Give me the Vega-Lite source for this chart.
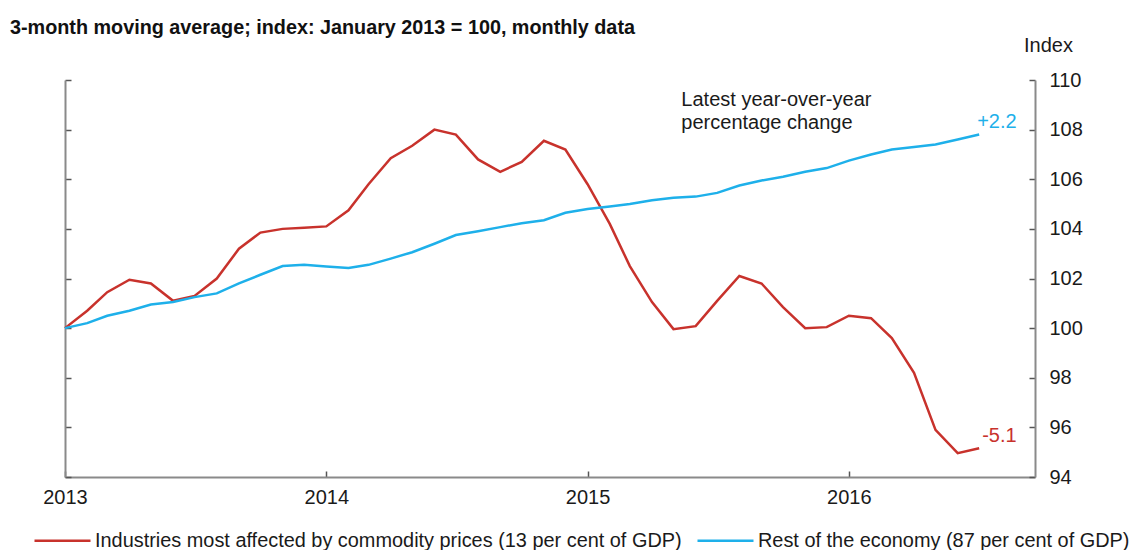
{
  "$schema": "https://vega.github.io/schema/vega-lite/v6.json",
  "autosize": {"type": "none"},
  "padding": {"left": 65, "top": 80, "right": 96, "bottom": 73},
  "width": 970,
  "height": 397,
  "config": {
    "font": "Liberation Sans",
    "view": {"stroke": null},
    "axis": {"grid": false, "domainColor": "#8a8a8a", "domainWidth": 2, "tickColor": "#555555", "tickWidth": 1.5, "labelColor": "#1a1a1a", "labelFontSize": 20, "labelFont": "Liberation Sans"}
  },
  "title": {
    "text": "3-month moving average; index: January 2013 = 100, monthly data",
    "anchor": "start",
    "frame": "group",
    "dx": -55,
    "offset": -3,
    "fontSize": 19.8,
    "fontWeight": "bold",
    "font": "Liberation Sans",
    "color": "#111111"
  },
  "datasets": {
    "lines": [
      {"date": "2013-01-01", "series": "Industries most affected by commodity prices (13 per cent of GDP)", "value": 100.0},
      {"date": "2013-02-01", "series": "Industries most affected by commodity prices (13 per cent of GDP)", "value": 100.7},
      {"date": "2013-03-01", "series": "Industries most affected by commodity prices (13 per cent of GDP)", "value": 101.45},
      {"date": "2013-04-01", "series": "Industries most affected by commodity prices (13 per cent of GDP)", "value": 101.95},
      {"date": "2013-05-01", "series": "Industries most affected by commodity prices (13 per cent of GDP)", "value": 101.8},
      {"date": "2013-06-01", "series": "Industries most affected by commodity prices (13 per cent of GDP)", "value": 101.1},
      {"date": "2013-07-01", "series": "Industries most affected by commodity prices (13 per cent of GDP)", "value": 101.3},
      {"date": "2013-08-01", "series": "Industries most affected by commodity prices (13 per cent of GDP)", "value": 102.0},
      {"date": "2013-09-01", "series": "Industries most affected by commodity prices (13 per cent of GDP)", "value": 103.2},
      {"date": "2013-10-01", "series": "Industries most affected by commodity prices (13 per cent of GDP)", "value": 103.85},
      {"date": "2013-11-01", "series": "Industries most affected by commodity prices (13 per cent of GDP)", "value": 104.0},
      {"date": "2013-12-01", "series": "Industries most affected by commodity prices (13 per cent of GDP)", "value": 104.05},
      {"date": "2014-01-01", "series": "Industries most affected by commodity prices (13 per cent of GDP)", "value": 104.1},
      {"date": "2014-02-01", "series": "Industries most affected by commodity prices (13 per cent of GDP)", "value": 104.75},
      {"date": "2014-03-01", "series": "Industries most affected by commodity prices (13 per cent of GDP)", "value": 105.8},
      {"date": "2014-04-01", "series": "Industries most affected by commodity prices (13 per cent of GDP)", "value": 106.85},
      {"date": "2014-05-01", "series": "Industries most affected by commodity prices (13 per cent of GDP)", "value": 107.35},
      {"date": "2014-06-01", "series": "Industries most affected by commodity prices (13 per cent of GDP)", "value": 108.0},
      {"date": "2014-07-01", "series": "Industries most affected by commodity prices (13 per cent of GDP)", "value": 107.8},
      {"date": "2014-08-01", "series": "Industries most affected by commodity prices (13 per cent of GDP)", "value": 106.8},
      {"date": "2014-09-01", "series": "Industries most affected by commodity prices (13 per cent of GDP)", "value": 106.3},
      {"date": "2014-10-01", "series": "Industries most affected by commodity prices (13 per cent of GDP)", "value": 106.7},
      {"date": "2014-11-01", "series": "Industries most affected by commodity prices (13 per cent of GDP)", "value": 107.55},
      {"date": "2014-12-01", "series": "Industries most affected by commodity prices (13 per cent of GDP)", "value": 107.2},
      {"date": "2015-01-01", "series": "Industries most affected by commodity prices (13 per cent of GDP)", "value": 105.8},
      {"date": "2015-02-01", "series": "Industries most affected by commodity prices (13 per cent of GDP)", "value": 104.2},
      {"date": "2015-03-01", "series": "Industries most affected by commodity prices (13 per cent of GDP)", "value": 102.5},
      {"date": "2015-04-01", "series": "Industries most affected by commodity prices (13 per cent of GDP)", "value": 101.05},
      {"date": "2015-05-01", "series": "Industries most affected by commodity prices (13 per cent of GDP)", "value": 99.96},
      {"date": "2015-06-01", "series": "Industries most affected by commodity prices (13 per cent of GDP)", "value": 100.08},
      {"date": "2015-07-01", "series": "Industries most affected by commodity prices (13 per cent of GDP)", "value": 101.1},
      {"date": "2015-08-01", "series": "Industries most affected by commodity prices (13 per cent of GDP)", "value": 102.1},
      {"date": "2015-09-01", "series": "Industries most affected by commodity prices (13 per cent of GDP)", "value": 101.8},
      {"date": "2015-10-01", "series": "Industries most affected by commodity prices (13 per cent of GDP)", "value": 100.85},
      {"date": "2015-11-01", "series": "Industries most affected by commodity prices (13 per cent of GDP)", "value": 100.0},
      {"date": "2015-12-01", "series": "Industries most affected by commodity prices (13 per cent of GDP)", "value": 100.04},
      {"date": "2016-01-01", "series": "Industries most affected by commodity prices (13 per cent of GDP)", "value": 100.5},
      {"date": "2016-02-01", "series": "Industries most affected by commodity prices (13 per cent of GDP)", "value": 100.4},
      {"date": "2016-03-01", "series": "Industries most affected by commodity prices (13 per cent of GDP)", "value": 99.6},
      {"date": "2016-04-01", "series": "Industries most affected by commodity prices (13 per cent of GDP)", "value": 98.2},
      {"date": "2016-05-01", "series": "Industries most affected by commodity prices (13 per cent of GDP)", "value": 95.9},
      {"date": "2016-06-01", "series": "Industries most affected by commodity prices (13 per cent of GDP)", "value": 94.96},
      {"date": "2016-07-01", "series": "Industries most affected by commodity prices (13 per cent of GDP)", "value": 95.16},
      {"date": "2013-01-01", "series": "Rest of the economy (87 per cent of GDP)", "value": 100.0},
      {"date": "2013-02-01", "series": "Rest of the economy (87 per cent of GDP)", "value": 100.2},
      {"date": "2013-03-01", "series": "Rest of the economy (87 per cent of GDP)", "value": 100.5},
      {"date": "2013-04-01", "series": "Rest of the economy (87 per cent of GDP)", "value": 100.7},
      {"date": "2013-05-01", "series": "Rest of the economy (87 per cent of GDP)", "value": 100.95},
      {"date": "2013-06-01", "series": "Rest of the economy (87 per cent of GDP)", "value": 101.05},
      {"date": "2013-07-01", "series": "Rest of the economy (87 per cent of GDP)", "value": 101.25},
      {"date": "2013-08-01", "series": "Rest of the economy (87 per cent of GDP)", "value": 101.4},
      {"date": "2013-09-01", "series": "Rest of the economy (87 per cent of GDP)", "value": 101.8},
      {"date": "2013-10-01", "series": "Rest of the economy (87 per cent of GDP)", "value": 102.15},
      {"date": "2013-11-01", "series": "Rest of the economy (87 per cent of GDP)", "value": 102.5},
      {"date": "2013-12-01", "series": "Rest of the economy (87 per cent of GDP)", "value": 102.55},
      {"date": "2014-01-01", "series": "Rest of the economy (87 per cent of GDP)", "value": 102.48},
      {"date": "2014-02-01", "series": "Rest of the economy (87 per cent of GDP)", "value": 102.42},
      {"date": "2014-03-01", "series": "Rest of the economy (87 per cent of GDP)", "value": 102.55},
      {"date": "2014-04-01", "series": "Rest of the economy (87 per cent of GDP)", "value": 102.8},
      {"date": "2014-05-01", "series": "Rest of the economy (87 per cent of GDP)", "value": 103.06},
      {"date": "2014-06-01", "series": "Rest of the economy (87 per cent of GDP)", "value": 103.4},
      {"date": "2014-07-01", "series": "Rest of the economy (87 per cent of GDP)", "value": 103.75},
      {"date": "2014-08-01", "series": "Rest of the economy (87 per cent of GDP)", "value": 103.9},
      {"date": "2014-09-01", "series": "Rest of the economy (87 per cent of GDP)", "value": 104.07},
      {"date": "2014-10-01", "series": "Rest of the economy (87 per cent of GDP)", "value": 104.23},
      {"date": "2014-11-01", "series": "Rest of the economy (87 per cent of GDP)", "value": 104.35},
      {"date": "2014-12-01", "series": "Rest of the economy (87 per cent of GDP)", "value": 104.65},
      {"date": "2015-01-01", "series": "Rest of the economy (87 per cent of GDP)", "value": 104.8},
      {"date": "2015-02-01", "series": "Rest of the economy (87 per cent of GDP)", "value": 104.9},
      {"date": "2015-03-01", "series": "Rest of the economy (87 per cent of GDP)", "value": 105.0},
      {"date": "2015-04-01", "series": "Rest of the economy (87 per cent of GDP)", "value": 105.15},
      {"date": "2015-05-01", "series": "Rest of the economy (87 per cent of GDP)", "value": 105.25},
      {"date": "2015-06-01", "series": "Rest of the economy (87 per cent of GDP)", "value": 105.3},
      {"date": "2015-07-01", "series": "Rest of the economy (87 per cent of GDP)", "value": 105.45},
      {"date": "2015-08-01", "series": "Rest of the economy (87 per cent of GDP)", "value": 105.75},
      {"date": "2015-09-01", "series": "Rest of the economy (87 per cent of GDP)", "value": 105.95},
      {"date": "2015-10-01", "series": "Rest of the economy (87 per cent of GDP)", "value": 106.1},
      {"date": "2015-11-01", "series": "Rest of the economy (87 per cent of GDP)", "value": 106.3},
      {"date": "2015-12-01", "series": "Rest of the economy (87 per cent of GDP)", "value": 106.45},
      {"date": "2016-01-01", "series": "Rest of the economy (87 per cent of GDP)", "value": 106.75},
      {"date": "2016-02-01", "series": "Rest of the economy (87 per cent of GDP)", "value": 107.0},
      {"date": "2016-03-01", "series": "Rest of the economy (87 per cent of GDP)", "value": 107.2},
      {"date": "2016-04-01", "series": "Rest of the economy (87 per cent of GDP)", "value": 107.3},
      {"date": "2016-05-01", "series": "Rest of the economy (87 per cent of GDP)", "value": 107.4},
      {"date": "2016-06-01", "series": "Rest of the economy (87 per cent of GDP)", "value": 107.6},
      {"date": "2016-07-01", "series": "Rest of the economy (87 per cent of GDP)", "value": 107.8}
    ],
    "note": [
      {"date": "2015-05-12", "value": 109.6, "label": "Latest year-over-year\npercentage change"}
    ],
    "blueEnd": [
      {"date": "2016-07-01", "value": 107.8, "label": "+2.2"}
    ],
    "redEnd": [
      {"date": "2016-07-01", "value": 95.16, "label": "-5.1"}
    ]
  },
  "resolve": {"axis": {"y": "independent"}},
  "layer": [
    {
      "data": {"name": "lines"},
      "mark": {"type": "line", "strokeWidth": 2.5},
      "encoding": {
        "x": {
          "field": "date",
          "type": "temporal",
          "scale": {"domain": ["2013-01-01", "2016-09-17"]},
          "axis": {
            "title": null,
            "format": "%Y",
            "values": [{"year": 2013, "month": 1, "date": 1}, {"year": 2014, "month": 1, "date": 1}, {"year": 2015, "month": 1, "date": 1}, {"year": 2016, "month": 1, "date": 1}],
            "tickSize": -6,
            "labelPadding": 16,
            "labelFlush": false,
            "labelAlign": "center"
          }
        },
        "y": {
          "field": "value",
          "type": "quantitative",
          "scale": {"domain": [94, 110], "nice": false, "zero": false},
          "axis": {
            "orient": "right",
            "values": [94, 96, 98, 100, 102, 104, 106, 108, 110],
            "tickSize": -6,
            "labelPadding": 20,
            "labelAlign": "left",
            "labelBaseline": "middle",
            "title": "Index",
            "titleAngle": 0,
            "titleAlign": "center",
            "titleBaseline": "middle",
            "titleX": 13,
            "titleY": -35,
            "titleFontSize": 20,
            "titleFontWeight": "normal",
            "titleColor": "#1a1a1a",
            "titleFont": "Liberation Sans"
          }
        },
        "color": {
          "field": "series",
          "type": "nominal",
          "scale": {
            "domain": ["Industries most affected by commodity prices (13 per cent of GDP)", "Rest of the economy (87 per cent of GDP)"],
            "range": ["#C8322C", "#1EB0EA"]
          },
          "legend": {
            "title": null,
            "orient": "none",
            "direction": "horizontal",
            "legendX": -32,
            "legendY": 431,
            "symbolType": "stroke",
            "symbolSize": 3136,
            "symbolStrokeWidth": 2.5,
            "labelFontSize": 19.9,
            "labelColor": "#1a1a1a",
            "labelLimit": 1000,
            "labelOffset": 3,
            "columnPadding": 10,
            "padding": 0
          }
        }
      }
    },
    {
      "data": {"name": "lines"},
      "mark": {"type": "line", "opacity": 0},
      "encoding": {
        "x": {"field": "date", "type": "temporal"},
        "y": {
          "field": "value",
          "type": "quantitative",
          "axis": {
            "orient": "left",
            "values": [94, 96, 98, 100, 102, 104, 106, 108, 110],
            "labels": false,
            "tickSize": -6,
            "title": null
          }
        },
        "detail": {"field": "series", "type": "nominal"}
      }
    },
    {
      "data": {"name": "note"},
      "mark": {"type": "text", "align": "left", "baseline": "top", "fontSize": 20, "lineBreak": "\n", "lineHeight": 23, "color": "#1a1a1a"},
      "encoding": {
        "x": {"field": "date", "type": "temporal"},
        "y": {"field": "value", "type": "quantitative", "axis": null},
        "text": {"field": "label", "type": "nominal"}
      }
    },
    {
      "data": {"name": "blueEnd"},
      "mark": {"type": "text", "align": "left", "baseline": "middle", "fontSize": 20, "dx": -2, "dy": -13, "color": "#1EB0EA"},
      "encoding": {
        "x": {"field": "date", "type": "temporal"},
        "y": {"field": "value", "type": "quantitative", "axis": null},
        "text": {"field": "label", "type": "nominal"}
      }
    },
    {
      "data": {"name": "redEnd"},
      "mark": {"type": "text", "align": "left", "baseline": "middle", "fontSize": 20, "dx": 3, "dy": -12, "color": "#C8322C"},
      "encoding": {
        "x": {"field": "date", "type": "temporal"},
        "y": {"field": "value", "type": "quantitative", "axis": null},
        "text": {"field": "label", "type": "nominal"}
      }
    }
  ]
}
